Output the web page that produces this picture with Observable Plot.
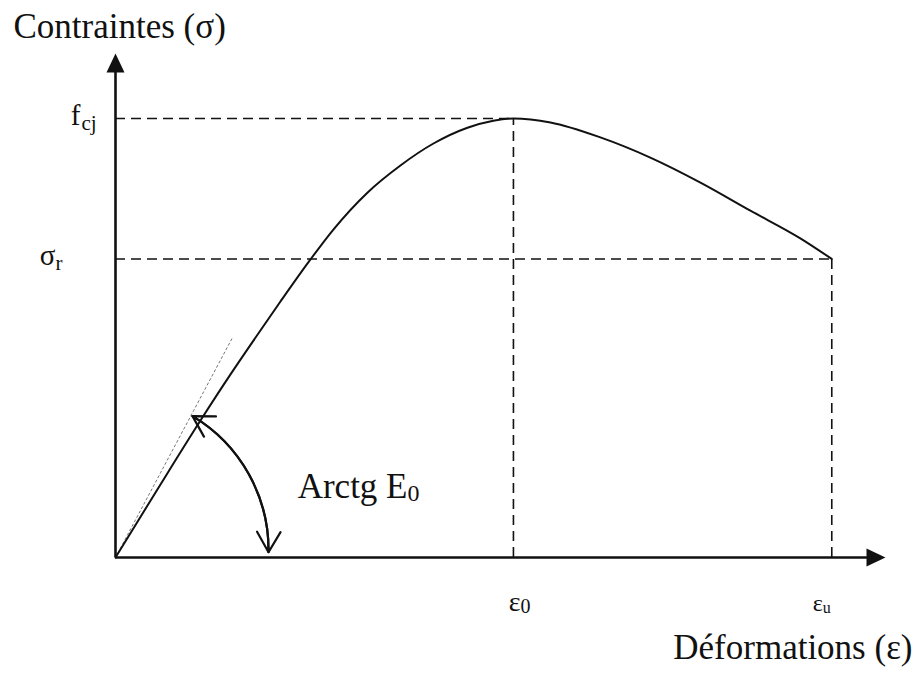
<!DOCTYPE html>
<html>
<head>
<meta charset="utf-8">
<script src="https://cdn.jsdelivr.net/npm/d3@7"></script>
<script src="https://cdn.jsdelivr.net/npm/@observablehq/plot@0.6"></script>
<style>
  html, body { margin: 0; padding: 0; background: #fff; }
  #chart svg { display: block; }
</style>
</head>
<body>
<div id="chart"></div>
<script>
// Concrete stress–strain law (rising branch up to the peak, then softening), normalised so f_cj = 1.
const strain = [0, 0.216, 0.427, 0.578, 0.704, 0.829, 0.980, 1.095, 1.266, 1.432, 1.598, 1.769, 1.899, 2.0, 2.186, 2.437, 2.688, 2.940, 3.191, 3.442, 3.6];
const stress = [0, 0.159, 0.312, 0.417, 0.501, 0.583, 0.679, 0.747, 0.831, 0.893, 0.943, 0.979, 0.995, 1.0, 0.991, 0.957, 0.911, 0.854, 0.790, 0.727, 0.68];

// Characteristic points
const fcj = 1.0;      // peak stress
const sigmaR = 0.68;  // stress at rupture
const eps0 = 2.0;     // strain at peak
const epsU = 3.6;     // ultimate strain

// Initial tangent (slope E0) end point, and the angle-marker arc ends
const tangentEnd = [0.588, 0.501];
const arcStart = [0.387, 0.322];
const arcEnd = [0.769, 0.012];

// Extent of the drawn axes
const xMax = 3.87;
const yMax = 1.148;

// Texts
const axisTitles = ["Contraintes (σ)", "Déformations (ε)"];
const stressTickBase = ["f", "σ"];
const stressTickSub = ["cj", "r"];
const strainTickBase = ["ε", "ε"];
const strainTickSub = ["0", "u"];
const angleLabel = ["Arctg E", "0"];

const curve = strain.map((x, i) => ({x, y: stress[i]}));

// Filled arrowhead, tip at the anchor point, pointing up
const arrowHead = {
  draw(context) {
    context.moveTo(0, 0);
    context.lineTo(-9, 19);
    context.lineTo(9, 19);
    context.closePath();
  }
};

const serif = "Liberation Serif, Times New Roman, serif";
const ink = "#111";
const dash = {stroke: ink, strokeWidth: 1.6, strokeDasharray: "10,6"};

const chart = Plot.plot({
  width: 915,
  height: 677,
  marginLeft: 115,
  marginRight: 30,
  marginTop: 53,
  marginBottom: 120,
  x: {domain: [0, xMax], axis: null},
  y: {domain: [0, yMax], axis: null},
  style: {fontFamily: serif, background: "#fff", color: ink},
  marks: [
    // reference dashed lines
    Plot.ruleY([fcj], {x1: 0, x2: eps0, ...dash}),
    Plot.ruleX([eps0], {y1: 0, y2: fcj, ...dash}),
    Plot.ruleY([sigmaR], {x1: 0, x2: epsU, ...dash}),
    Plot.ruleX([epsU], {y1: 0, y2: sigmaR, ...dash}),

    // initial tangent
    Plot.link([tangentEnd], {x1: 0, y1: 0, x2: d => d[0], y2: d => d[1], stroke: "#777", strokeWidth: 1, strokeDasharray: "3,2"}),

    // stress–strain curve
    Plot.line(curve, {x: "x", y: "y", curve: "monotone-x", stroke: ink, strokeWidth: 2}),

    // axes with arrowheads
    Plot.ruleX([0], {y1: 0, y2: yMax - 0.03, stroke: ink, strokeWidth: 2.6}),
    Plot.ruleY([0], {x1: 0, x2: xMax - 0.07, stroke: ink, strokeWidth: 2.6}),
    Plot.dot([[0, yMax]], {x: d => d[0], y: d => d[1], symbol: arrowHead, fill: ink, stroke: "none"}),
    Plot.dot([[xMax, 0]], {x: d => d[0], y: d => d[1], symbol: arrowHead, rotate: 90, fill: ink, stroke: "none"}),

    // double-headed arc for the angle E0
    Plot.arrow([0], {x1: arcStart[0], y1: arcStart[1], x2: arcEnd[0], y2: arcEnd[1], bend: 30, headLength: 16, stroke: ink, strokeWidth: 2.2}),
    Plot.arrow([0], {x1: arcEnd[0], y1: arcEnd[1], x2: arcStart[0], y2: arcStart[1], bend: -30, headLength: 16, stroke: ink, strokeWidth: 2.2}),

    // axis titles
    Plot.text([axisTitles[0]], {x: 0, y: yMax, text: d => d, dx: -102, dy: -16, textAnchor: "start", lineAnchor: "bottom", fontSize: 35, fill: ink}),
    Plot.text([axisTitles[1]], {x: xMax, y: 0, text: d => d, dx: 27, dy: 101, textAnchor: "end", lineAnchor: "bottom", fontSize: 35, fill: ink}),

    // stress tick labels (base + subscript)
    Plot.text([stressTickBase[0]], {x: 0, y: fcj, text: d => d, dx: -35, dy: 7, textAnchor: "end", lineAnchor: "bottom", fontSize: 29, fill: ink}),
    Plot.text([stressTickSub[0]], {x: 0, y: fcj, text: d => d, dx: -34, dy: 12, textAnchor: "start", lineAnchor: "bottom", fontSize: 21, fill: ink}),
    Plot.text([stressTickBase[1]], {x: 0, y: sigmaR, text: d => d, dx: -60, dy: 6.5, textAnchor: "end", lineAnchor: "bottom", fontSize: 29, fill: ink}),
    Plot.text([stressTickSub[1]], {x: 0, y: sigmaR, text: d => d, dx: -60, dy: 11.5, textAnchor: "start", lineAnchor: "bottom", fontSize: 21, fill: ink}),

    // strain tick labels
    Plot.text([strainTickBase[0]], {x: eps0, y: 0, text: d => d, dx: 7, dy: 53, textAnchor: "end", lineAnchor: "bottom", fontSize: 28, fill: ink}),
    Plot.text([strainTickSub[0]], {x: eps0, y: 0, text: d => d, dx: 7, dy: 55, textAnchor: "start", lineAnchor: "bottom", fontSize: 20, fill: ink}),
    Plot.text([strainTickBase[1]], {x: epsU, y: 0, text: d => d, dx: -9, dy: 53, textAnchor: "end", lineAnchor: "bottom", fontSize: 24, fill: ink}),
    Plot.text([strainTickSub[1]], {x: epsU, y: 0, text: d => d, dx: -9, dy: 55, textAnchor: "start", lineAnchor: "bottom", fontSize: 16, fill: ink}),

    // angle label
    Plot.text([angleLabel[0]], {x: 0, y: 0, text: d => d, dx: 292, dy: -60, textAnchor: "end", lineAnchor: "bottom", fontSize: 35, fill: ink}),
    Plot.text([angleLabel[1]], {x: 0, y: 0, text: d => d, dx: 292, dy: -57, textAnchor: "start", lineAnchor: "bottom", fontSize: 24, fill: ink})
  ]
});

document.getElementById("chart").append(chart);
</script>
</body>
</html>
